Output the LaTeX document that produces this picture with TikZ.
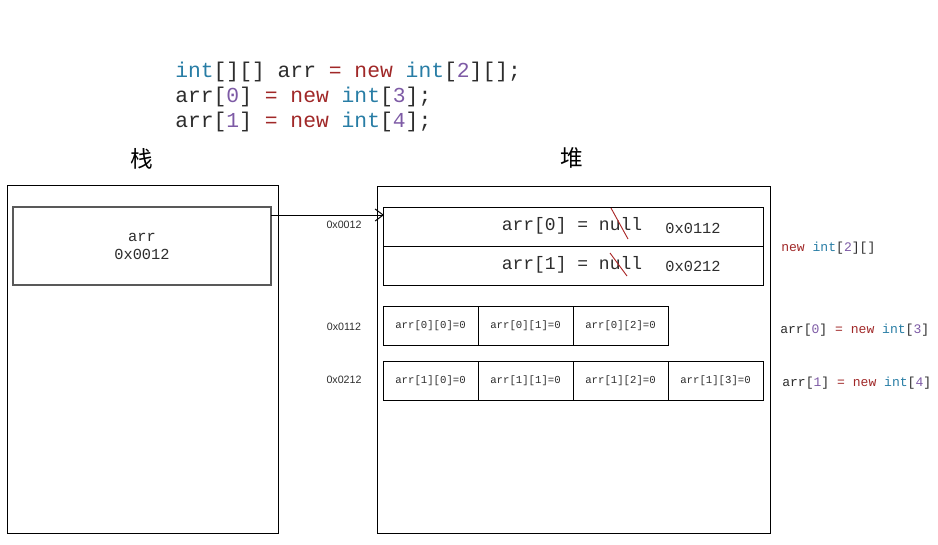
\documentclass[tikz,border=0pt]{standalone}
\usepackage{fontspec}
\setmonofont{Liberation Mono}
\newfontfamily\cjkf{Noto Sans CJK SC}
\newfontfamily\sansf{Liberation Sans}
\usetikzlibrary{arrows.meta}
\definecolor{kwc}{RGB}{160,40,40}
\definecolor{tyc}{RGB}{40,125,165}
\definecolor{nmc}{RGB}{125,90,165}
\definecolor{puc}{RGB}{45,45,45}
\definecolor{crossc}{RGB}{170,40,40}
\newcommand\KW[1]{\textcolor{kwc}{#1}}
\newcommand\TY[1]{\textcolor{tyc}{#1}}
\newcommand\NM[1]{\textcolor{nmc}{#1}}
\begin{document}
\begin{tikzpicture}[x=0.75pt,y=-0.75pt,
  box/.style={draw=black, line width=0.75pt, inner sep=0pt, outer sep=0pt, anchor=north west},
  code/.style={font=\ttfamily\fontsize{16}{18}\selectfont, text=puc, anchor=base west, inner sep=0pt},
  nulltxt/.style={font=\ttfamily\fontsize{13.5}{15}\selectfont, text=puc, inner sep=0pt},
  addr/.style={font=\ttfamily\fontsize{11.5}{13}\selectfont, text=puc, inner sep=0pt},
  cell/.style={box, minimum width=95*0.75pt, minimum height=39*0.75pt, font=\ttfamily\fontsize{8}{10}\selectfont, text=puc, anchor=north west},
  small/.style={font=\sansf\fontsize{8}{10}\selectfont, text=puc, inner sep=0pt},
  side/.style={font=\ttfamily\fontsize{9.8}{12}\selectfont, text=puc, anchor=west, inner sep=0pt},
  title/.style={font=\cjkf\fontsize{17}{19}\selectfont, inner sep=0pt},
  cross/.style={draw=crossc, line width=0.7pt}
]
\useasboundingbox (0,0) rectangle (938,544);

% code
\node[code] (c1) at (175,77) {\TY{int}[][] arr \KW{= new} \TY{int}[\NM{2}][];};
\node[code] (c2) at (175,102) {arr[\NM{0}] \KW{= new} \TY{int}[\NM{3}];};
\node[code] (c3) at (175,127) {arr[\NM{1}] \KW{= new} \TY{int}[\NM{4}];};

% titles
\node[title] (tstack) at (142,159) {栈};
\node[title] (theap) at (572,158) {堆};

% stack
\node[box, minimum width=271*0.75pt, minimum height=348*0.75pt] (stack) at (7,185) {};
\node[box, draw=black!65, line width=1.1pt, minimum width=258*0.75pt, minimum height=78*0.75pt] (var) at (13,207) {};
\node[addr, align=center, font=\ttfamily\fontsize{11.5}{13.5}\selectfont] (vartext) at (142,246) {arr\\0x0012};

% heap
\node[box, minimum width=393*0.75pt, minimum height=347*0.75pt] (heap) at (377,186) {};
\node[box, minimum width=380*0.75pt, minimum height=39*0.75pt] (row0) at (383,207) {};
\node[box, minimum width=380*0.75pt, minimum height=39*0.75pt] (row1) at (383,246) {};
\node[nulltxt] (n0) at (572,226) {arr[0] = null};
\node[nulltxt] (n1) at (572,265) {arr[1] = null};
\node[addr] (a0) at (693,228) {0x0112};
\node[addr] (a1) at (693,266) {0x0212};
\coordinate (x0s) at (611,208);
\coordinate (x0e) at (628,239);
\coordinate (x1s) at (610,253);
\coordinate (x1e) at (627,276);
\draw[cross] (x0s) -- (x0e);
\draw[cross] (x1s) -- (x1e);

% arrow
\coordinate (p1) at (271,215);
\coordinate (p2) at (384,215);
\draw[line width=0.75pt, -{Straight Barb[length=6pt,width=9pt]}] (p1) -- (p2);
\node[small] (l0) at (344,225) {0x0012};

% cells
\node[cell] (r00) at (383,306) {arr[0][0]=0};
\node[cell] (r01) at (478,306) {arr[0][1]=0};
\node[cell] (r02) at (573,306) {arr[0][2]=0};
\node[cell] (r10) at (383,361) {arr[1][0]=0};
\node[cell] (r11) at (478,361) {arr[1][1]=0};
\node[cell] (r12) at (573,361) {arr[1][2]=0};
\node[cell] (r13) at (668,361) {arr[1][3]=0};
\node[small] (l1) at (344,327) {0x0112};
\node[small] (l2) at (344,380) {0x0212};

% side labels
\node[side] (s0) at (781,248) {\KW{new} \TY{int}[\NM{2}][]};
\node[side] (s1) at (780,330) {arr[\NM{0}] \KW{= new} \TY{int}[\NM{3}]};
\node[side] (s2) at (782,383) {arr[\NM{1}] \KW{= new} \TY{int}[\NM{4}]};
\end{tikzpicture}
\end{document}
